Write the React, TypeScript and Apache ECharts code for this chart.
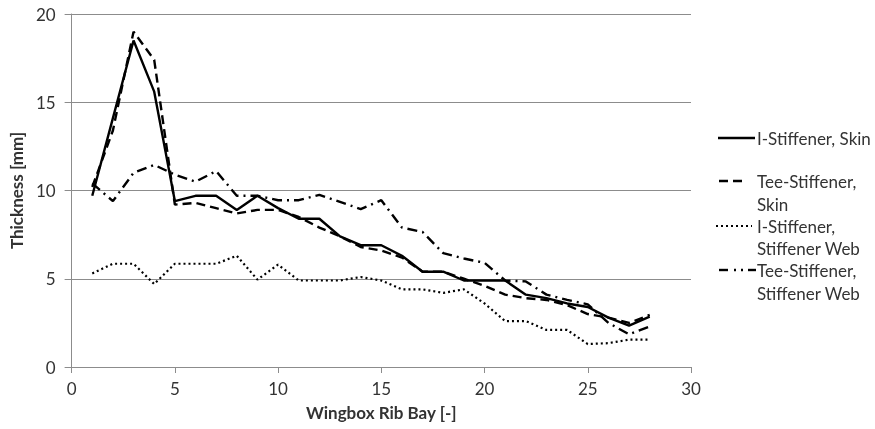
import React, { useEffect, useRef } from "react";
import * as echarts from "echarts";

const bays = [1, 2, 3, 4, 5, 6, 7, 8, 9, 10, 11, 12, 13, 14, 15, 16, 17, 18, 19, 20, 21, 22, 23, 24, 25, 26, 27, 28];
const iStiffenerSkin = [9.7, 14.1, 18.5, 15.6, 9.4, 9.7, 9.7, 8.9, 9.7, 9.0, 8.4, 8.4, 7.4, 6.9, 6.9, 6.3, 5.4, 5.4, 4.9, 4.9, 4.9, 4.1, 3.9, 3.6, 3.4, 2.8, 2.35, 2.85];
const teeStiffenerSkin = [10.2, 13.4, 19.0, 17.4, 9.2, 9.3, 9.0, 8.7, 8.9, 8.9, 8.5, 7.9, 7.4, 6.8, 6.6, 6.2, 5.4, 5.4, 5.0, 4.6, 4.1, 3.9, 3.8, 3.5, 3.0, 2.8, 2.5, 2.95];
const iStiffenerWeb = [5.3, 5.85, 5.85, 4.7, 5.85, 5.85, 5.85, 6.3, 4.95, 5.8, 4.9, 4.9, 4.9, 5.1, 4.9, 4.4, 4.4, 4.2, 4.4, 3.6, 2.6, 2.6, 2.1, 2.1, 1.3, 1.35, 1.55, 1.55];
const teeStiffenerWeb = [10.4, 9.4, 11.0, 11.45, 10.9, 10.5, 11.1, 9.7, 9.7, 9.45, 9.45, 9.75, 9.35, 8.95, 9.45, 7.9, 7.65, 6.45, 6.15, 5.9, 4.9, 4.85, 4.1, 3.8, 3.55, 2.5, 1.85, 2.3];

const xTicks = { min: 0, max: 30, interval: 5 };
const yTicks = { min: 0, max: 20, interval: 5 };

const FONT = "Lato";
const TEXT = "#333333";
const AXIS = "#8c8c8c";

const pair = (ys: number[]) => bays.map((b, i) => [b, ys[i]]);

export default function App() {
  const ref = useRef<HTMLDivElement>(null);
  useEffect(() => {
    if (!ref.current) return;
    const chart = echarts.init(ref.current, null, { renderer: "svg" });
    const tx = 757;
    const legendText = (text: string, y: number) => ({
      type: "text",
      x: tx,
      y,
      style: { text, fontSize: 17, fontFamily: FONT, fill: TEXT, verticalAlign: "middle", align: "left" },
    });
    chart.setOption({
      animation: false,
      grid: { left: 70, right: 184, top: 14, bottom: 62, containLabel: false },
      xAxis: {
        type: "value",
        min: xTicks.min,
        max: xTicks.max,
        interval: xTicks.interval,
        axisLine: { show: true, lineStyle: { color: AXIS, width: 1 } },
        axisTick: { show: true, length: 6, lineStyle: { color: AXIS } },
        splitLine: { show: false },
        axisLabel: { margin: 13, fontSize: 17, color: TEXT, fontFamily: FONT },
        name: "Wingbox Rib Bay [-]",
        nameLocation: "middle",
        nameGap: 37,
        nameTextStyle: { fontWeight: "bold", fontSize: 17, color: TEXT, fontFamily: FONT },
      },
      yAxis: {
        type: "value",
        min: yTicks.min,
        max: yTicks.max,
        interval: yTicks.interval,
        axisLine: { show: true, lineStyle: { color: AXIS, width: 1 } },
        axisTick: { show: true, length: 7, lineStyle: { color: AXIS } },
        splitLine: { show: true, lineStyle: { color: AXIS, width: 1 } },
        axisLabel: { margin: 16, fontSize: 17, color: TEXT, fontFamily: FONT },
        name: "Thickness [mm]",
        nameLocation: "middle",
        nameGap: 38,
        nameRotate: 90,
        nameTextStyle: { fontWeight: "bold", fontSize: 17, color: TEXT, fontFamily: FONT },
      },
      series: [
        {
          name: "I-Stiffener, Skin",
          type: "line",
          data: pair(iStiffenerSkin),
          showSymbol: false,
          symbol: "none",
          lineStyle: { color: "#000", width: 2.4, type: "solid" },
          z: 4,
        },
        {
          name: "Tee-Stiffener, Skin",
          type: "line",
          data: pair(teeStiffenerSkin),
          showSymbol: false,
          symbol: "none",
          lineStyle: { color: "#000", width: 2.4, type: [9, 5] },
          z: 3,
        },
        {
          name: "I-Stiffener, Stiffener Web",
          type: "line",
          data: pair(iStiffenerWeb),
          showSymbol: false,
          symbol: "none",
          lineStyle: { color: "#000", width: 2.2, type: [2, 3] },
          z: 2,
        },
        {
          name: "Tee-Stiffener, Stiffener Web",
          type: "line",
          data: pair(teeStiffenerWeb),
          showSymbol: false,
          symbol: "none",
          lineStyle: { color: "#000", width: 2.4, type: [10, 5, 2, 5] },
          z: 1,
        },
      ],
      graphic: [
        { type: "line", shape: { x1: 718, y1: 138, x2: 755, y2: 138 }, style: { stroke: "#000", lineWidth: 2.4 } },
        legendText("I-Stiffener, Skin", 138),
        { type: "line", shape: { x1: 719, y1: 181, x2: 742, y2: 181 }, style: { stroke: "#000", lineWidth: 2.4, lineDash: [9, 5] } },
        legendText("Tee-Stiffener,", 181),
        legendText("Skin", 204),
        { type: "line", shape: { x1: 716, y1: 226, x2: 752, y2: 226 }, style: { stroke: "#000", lineWidth: 2, lineDash: [2, 3] } },
        legendText("I-Stiffener,", 226),
        legendText("Stiffener Web", 248),
        { type: "line", shape: { x1: 719, y1: 270, x2: 728, y2: 270 }, style: { stroke: "#000", lineWidth: 2.4 } },
        { type: "line", shape: { x1: 734, y1: 270, x2: 736, y2: 270 }, style: { stroke: "#000", lineWidth: 2.4 } },
        { type: "line", shape: { x1: 741, y1: 270, x2: 743, y2: 270 }, style: { stroke: "#000", lineWidth: 2.4 } },
        { type: "line", shape: { x1: 748, y1: 270, x2: 756, y2: 270 }, style: { stroke: "#000", lineWidth: 2.4 } },
        legendText("Tee-Stiffener,", 270),
        legendText("Stiffener Web", 293),
      ],
    });
    return () => chart.dispose();
  }, []);
  return <div ref={ref} style={{ position: "fixed", left: 0, top: 0, width: 875, height: 429 }} />;
}
